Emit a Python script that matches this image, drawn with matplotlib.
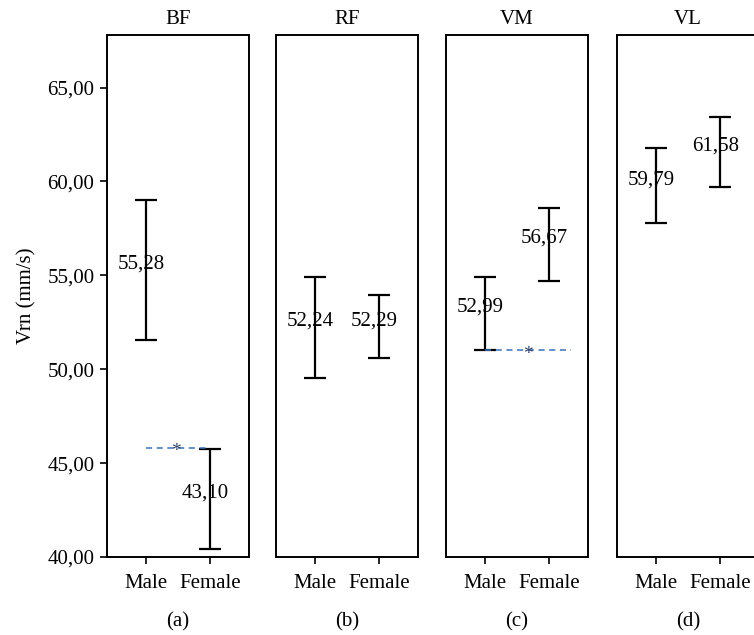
import matplotlib
matplotlib.use("Agg")
import matplotlib.pyplot as plt

plt.rcParams["font.family"] = ["Liberation Serif", "DejaVu Serif"]

groups = ["Male", "Female"]
muscles = ["BF", "RF", "VM", "VL"]
panel_tags = ["(a)", "(b)", "(c)", "(d)"]

# means and error-bar limits
means = {
    "BF": [55.28, 43.10],
    "RF": [52.24, 52.29],
    "VM": [52.99, 56.67],
    "VL": [59.79, 61.58],
}
lower = {
    "BF": [51.54, 40.44],
    "RF": [49.54, 50.62],
    "VM": [51.01, 54.70],
    "VL": [57.78, 59.73],
}
upper = {
    "BF": [58.99, 45.74],
    "RF": [54.91, 53.95],
    "VM": [54.89, 58.58],
    "VL": [61.76, 63.42],
}
# significance line: (muscle, y level, x start, x end)
sig_lines = [("BF", 45.80, 0.0, 0.95), ("VM", 51.01, 0.0, 1.35)]

yticks = [40, 45, 50, 55, 60, 65]
ylim = (40, 67.8)

fig = plt.figure(figsize=(7.54, 6.35), dpi=100)
W, H = 754, 635
lefts = [107, 276, 446, 617]
pw, top_px, bot_px = 142, 35, 557

for i, m in enumerate(muscles):
    ax = fig.add_axes([lefts[i] / W, 1 - bot_px / H, pw / W, (bot_px - top_px) / H])
    xs = [0, 1]
    for j in range(2):
        mu = means[m][j]
        ax.errorbar(xs[j], mu, yerr=[[mu - lower[m][j]], [upper[m][j] - mu]],
                    fmt="none", ecolor="black", elinewidth=1.6, capsize=8,
                    capthick=1.6)
        ax.text(xs[j] - 0.07, mu + 0.3, f"{mu:.2f}".replace(".", ","),
                ha="center", va="center", fontsize=15)
    for sm, yv, x0, x1 in sig_lines:
        if sm == m:
            ax.plot([x0, x1], [yv, yv], color="#3f72b8", lw=1.1,
                    dashes=(4, 3))
            ax.text((x0 + x1) / 2, yv - 0.2, "*", ha="center", va="center",
                    fontsize=14, color="#2a3f66")
    ax.set_xlim(-0.61, 1.61)
    ax.set_ylim(*ylim)
    ax.set_xticks(xs)
    ax.set_xticklabels(groups, fontsize=15)
    if i == 0:
        ax.set_yticks(yticks)
        ax.set_yticklabels([f"{v:.2f}".replace(".", ",") for v in yticks],
                           fontsize=15)
        ax.set_ylabel("Vrn (mm/s)", fontsize=15, labelpad=8)
    else:
        ax.set_yticks([])
    ax.tick_params(direction="out", length=5, width=1.2, pad=4)
    ax.tick_params(axis="x", pad=7)
    for s in ax.spines.values():
        s.set_linewidth(1.4)
    ax.text(0.5, 1.03, m, transform=ax.transAxes, ha="center",
            va="center", fontsize=15)
    ax.text(0.5, -0.1245, panel_tags[i], transform=ax.transAxes,
            ha="center", va="center", fontsize=15)

fig.savefig("out.png", dpi=100)
